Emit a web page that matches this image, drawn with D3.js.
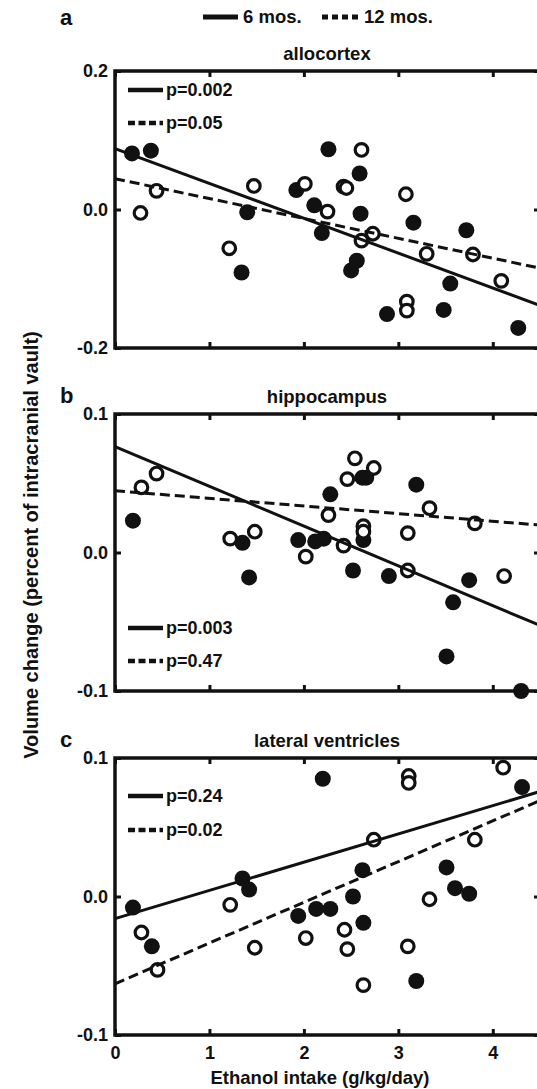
<!DOCTYPE html>
<html><head><meta charset="utf-8">
<script src="https://cdn.jsdelivr.net/npm/d3@7"></script>
<style>
body{margin:0;background:#fff;}
svg{display:block;}
text{font-family:"Liberation Sans",Arial,Helvetica,sans-serif;font-weight:bold;fill:#111;}
</style></head><body>
<svg id="chart" width="537" height="1089"></svg>
<script>
// ---------- data ----------
const panelNames = ["allocortex", "hippocampus", "lateral ventricles"];
const panelLetters = ["a", "b", "c"];
const seriesNames = ["6 mos.", "12 mos."];
const xDomain = [0, 4.5];
const xTicks = [0, 1, 2, 3, 4];
const xTickLabels = ["0", "1", "2", "3", "4"];
const yDomainA = [-0.2, 0.2];
const yDomainB = [-0.1, 0.1];
const yDomainC = [-0.1, 0.1];
const yTicksA = [-0.2, 0, 0.2];
const yTickLabelsA = ["-0.2", "0.0", "0.2"];
const yTicksB = [-0.1, 0, 0.1];
const yTickLabelsB = ["-0.1", "0.0", "0.1"];
const yTicksC = [-0.1, 0, 0.1];
const yTickLabelsC = ["-0.1", "0.0", "0.1"];
const pSolid = ["p=0.002", "p=0.003", "p=0.24"];
const pDashed = ["p=0.05", "p=0.47", "p=0.02"];

// allocortex
const a6x = [0.18,0.38,1.40,1.34,1.92,2.11,2.19,2.26,2.59,2.60,2.56,2.50,2.88,3.16,3.48,3.55,3.72,4.27];
const a6y = [0.081,0.085,-0.004,-0.091,0.028,0.006,-0.034,0.087,0.052,-0.006,-0.074,-0.088,-0.151,-0.019,-0.145,-0.107,-0.030,-0.171];
const a12x = [0.27,0.44,1.47,1.21,2.01,2.25,2.61,2.42,2.45,2.61,2.73,3.08,3.09,3.09,3.30,3.79,4.09];
const a12y = [-0.005,0.027,0.034,-0.056,0.037,-0.003,0.086,0.033,0.031,-0.045,-0.035,0.022,-0.133,-0.146,-0.064,-0.065,-0.103];
// hippocampus
const b6x = [0.19,1.35,1.42,1.94,2.12,2.21,2.28,2.52,2.62,2.66,2.63,2.90,3.19,3.58,3.75,3.51,4.30];
const b6y = [0.023,0.007,-0.018,0.009,0.008,0.010,0.042,-0.013,0.054,0.054,0.009,-0.017,0.049,-0.036,-0.020,-0.075,-0.100];
const b12x = [0.28,0.44,1.22,1.48,2.02,2.26,2.42,2.46,2.54,2.74,2.63,2.63,3.10,3.10,3.33,3.81,4.12];
const b12y = [0.047,0.057,0.010,0.015,-0.003,0.027,0.005,0.053,0.068,0.061,0.019,0.015,0.014,-0.013,0.032,0.021,-0.017];
// lateral ventricles
const c6x = [0.19,0.39,1.35,1.42,1.94,2.13,2.28,2.20,2.52,2.62,2.63,3.19,3.51,3.60,3.75,4.31];
const c6y = [-0.008,-0.036,0.013,0.005,-0.014,-0.009,-0.009,0.085,0.000,0.019,-0.019,-0.061,0.021,0.006,0.002,0.079];
const c12x = [0.28,0.45,1.22,1.48,2.02,2.43,2.46,2.63,2.74,3.11,3.11,3.10,3.33,3.81,4.11];
const c12y = [-0.026,-0.053,-0.006,-0.037,-0.030,-0.024,-0.038,-0.064,0.041,0.087,0.082,-0.036,-0.002,0.041,0.093];

// regression lines (values at x = 0 and x = 4.5)
const fitX = [0, 4.5];
const fitA6 = [0.088, -0.1385];
const fitA12 = [0.0445, -0.0847];
const fitB6 = [0.0765, -0.0527];
const fitB12 = [0.0446, 0.0198];
const fitC6 = [-0.016, 0.0758];
const fitC12 = [-0.063, 0.0693];

// ---------- layout ----------
const svg = d3.select("#chart");
const INK = "#111";
const panelTops = [71, 414, 758];
const panelH = 277;
const legendOffsets = [[19, 52], [214, 247], [38, 72]];
const x = d3.scaleLinear().domain(xDomain).range([115, 540]);

const panels = [
  {dom: yDomainA, ticks: yTicksA, labels: yTickLabelsA, s6: [a6x, a6y], s12: [a12x, a12y], f6: fitA6, f12: fitA12},
  {dom: yDomainB, ticks: yTicksB, labels: yTickLabelsB, s6: [b6x, b6y], s12: [b12x, b12y], f6: fitB6, f12: fitB12},
  {dom: yDomainC, ticks: yTicksC, labels: yTickLabelsC, s6: [c6x, c6y], s12: [c12x, c12y], f6: fitC6, f12: fitC12}
];

panels.forEach((p, i) => {
  const top = panelTops[i];
  const y = d3.scaleLinear().domain(p.dom).range([top + panelH, top]);
  const g = svg.append("g");
  const last = i === panels.length - 1;

  // points: filled (6 mos.) then open (12 mos.)
  const d6 = p.s6[0].map((v, k) => [v, p.s6[1][k]]);
  const d12 = p.s12[0].map((v, k) => [v, p.s12[1][k]]);
  g.selectAll("circle.f").data(d6).join("circle").attr("class", "f")
    .attr("cx", d => x(d[0])).attr("cy", d => y(d[1])).attr("r", 8).attr("fill", INK);
  g.selectAll("circle.o").data(d12).join("circle").attr("class", "o")
    .attr("cx", d => x(d[0])).attr("cy", d => y(d[1])).attr("r", 6.3)
    .attr("fill", "#fff").attr("stroke", INK).attr("stroke-width", 3.2);

  // regression lines
  g.append("line").attr("x1", x(fitX[0])).attr("x2", x(fitX[1]))
    .attr("y1", y(p.f6[0])).attr("y2", y(p.f6[1]))
    .attr("stroke", INK).attr("stroke-width", 3);
  g.append("line").attr("x1", x(fitX[0])).attr("x2", x(fitX[1]))
    .attr("y1", y(p.f12[0])).attr("y2", y(p.f12[1]))
    .attr("stroke", INK).attr("stroke-width", 3).attr("stroke-dasharray", "10,5");

  // axes (inward ticks, box)
  const styleAxis = sel => {
    sel.select(".domain").remove();
    sel.selectAll(".tick line").attr("stroke", INK).attr("stroke-width", 3);
    sel.selectAll(".tick text").style("font-size", "18px").attr("fill", INK)
      .style("font-family", '"Liberation Sans",Arial,sans-serif').style("font-weight", "bold");
  };
  g.append("g").attr("transform", `translate(${x(xDomain[0])},0)`)
    .call(d3.axisLeft(y).tickValues(p.ticks).tickFormat((d, j) => p.labels[j]).tickSizeInner(-6).tickSizeOuter(0).tickPadding(7))
    .call(styleAxis);
  g.append("g").attr("transform", `translate(${x(xDomain[1])},0)`)
    .call(d3.axisRight(y).tickValues(p.ticks).tickFormat("").tickSizeInner(-6).tickSizeOuter(0))
    .call(styleAxis);
  g.append("g").attr("transform", `translate(0,${top})`)
    .call(d3.axisTop(x).tickValues(xTicks).tickFormat("").tickSizeInner(-6).tickSizeOuter(0))
    .call(styleAxis);
  g.append("g").attr("transform", `translate(0,${top + panelH})`)
    .call(d3.axisBottom(x).tickValues(xTicks).tickFormat(last ? (d, j) => xTickLabels[j] : "").tickSizeInner(-6).tickSizeOuter(0).tickPadding(11))
    .call(styleAxis);

  g.append("rect").attr("x", x(xDomain[0])).attr("y", y(p.dom[1]))
    .attr("width", x(xDomain[1]) - x(xDomain[0])).attr("height", y(p.dom[0]) - y(p.dom[1]))
    .attr("fill", "none").attr("stroke", INK).attr("stroke-width", 3.5);

  // title
  g.append("text").attr("x", 327).attr("y", top - 11).attr("text-anchor", "middle")
    .style("font-size", "18.5px").text(panelNames[i]);
  // panel letter
  const ly = i === 0 ? 25 : top - 11;
  g.append("text").attr("x", 60).attr("y", ly).style("font-size", "22px").text(panelLetters[i]);

  // p legend
  const lo = legendOffsets[i];
  g.append("line").attr("x1", 128).attr("x2", 163).attr("y1", top + lo[0]).attr("y2", top + lo[0])
    .attr("stroke", INK).attr("stroke-width", 4.5);
  g.append("text").attr("x", 166).attr("y", top + lo[0]).attr("dy", "0.35em")
    .style("font-size", "18px").text(pSolid[i]);
  g.append("line").attr("x1", 128).attr("x2", 163).attr("y1", top + lo[1]).attr("y2", top + lo[1])
    .attr("stroke", INK).attr("stroke-width", 4.5).attr("stroke-dasharray", "7,3.5");
  g.append("text").attr("x", 166).attr("y", top + lo[1]).attr("dy", "0.35em")
    .style("font-size", "18px").text(pDashed[i]);
});

// top legend
const lg = svg.append("g");
lg.append("line").attr("x1", 203).attr("x2", 238).attr("y1", 17).attr("y2", 17)
  .attr("stroke", INK).attr("stroke-width", 5);
lg.append("text").attr("x", 243).attr("y", 17).attr("dy", "0.35em").style("font-size", "18.5px").text(seriesNames[0]);
lg.append("line").attr("x1", 322).attr("x2", 362).attr("y1", 17).attr("y2", 17)
  .attr("stroke", INK).attr("stroke-width", 5).attr("stroke-dasharray", "6,4");
lg.append("text").attr("x", 364).attr("y", 17).attr("dy", "0.35em").style("font-size", "18.5px").text(seriesNames[1]);

// axis labels
svg.append("text").attr("transform", "translate(38,545) rotate(-90)").attr("text-anchor", "middle")
  .style("font-size", "20px").text("Volume change (percent of intracranial vault)");
svg.append("text").attr("x", 320).attr("y", 1084).attr("text-anchor", "middle")
  .style("font-size", "18.5px").text("Ethanol intake (g/kg/day)");
</script></body></html>
